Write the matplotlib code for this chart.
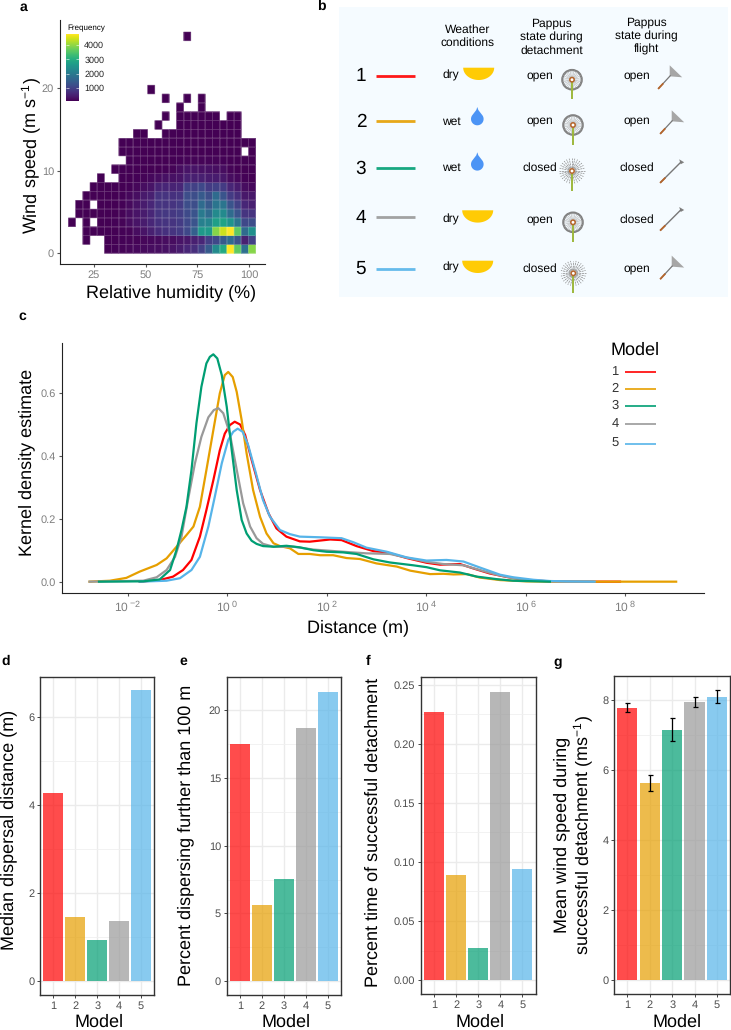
import numpy as np
import matplotlib
matplotlib.use("Agg")
import matplotlib.pyplot as plt
from matplotlib.patches import Rectangle, Polygon, Circle
from matplotlib.ticker import AutoMinorLocator

plt.rcParams['font.family'] = ['Liberation Sans', 'DejaVu Sans']
plt.rcParams['mathtext.fontset'] = 'custom'
plt.rcParams['mathtext.rm'] = 'Liberation Sans'
plt.rcParams['mathtext.default'] = 'regular'
plt.rcParams['text.hinting'] = 'none'
plt.rcParams['text.hinting_factor'] = 1

W, H = 731, 1030

models = [1, 2, 3, 4, 5]
colors = ['#FF0000', '#E69F00', '#009E73', '#999999', '#56B4E9']

# panel a, rows go from low wind speed to high, 26 humidity bins
_ = np.nan
freq = [
    [_]*5 + [100, 120, 150, 180, 200, 220, 250, 280, 300, 350, 450, 600, 700, 1000, 1400, 2300, 2900, 4750, 3600, 1800, 3900],
    [_, _, 100, _, _, 100, 100, 120, 150, 150, 180, 200, 220, 250, 250, 350, 400, 500, 600, 950, 1100, 1400, 1700, 1300, 500, 1000],
    [_, _, 100, 100, 100, 100, 100, 120, 150, 250, 350, 500, 650, 750, 800, 900, 1100, 1500, 2600, 2600, 3900, 4400, 4750, 3600, 1700, 2400],
    [100, _, 100, _, 100, 100, 120, 150, 250, 350, 450, 600, 750, 800, 800, 900, 1100, 1300, 2100, 2200, 2700, 2800, 2500, 1900, 1100, 1200],
    [_, 100, 100, 100, 100, 100, 100, 150, 250, 350, 450, 600, 800, 850, 850, 950, 1150, 1300, 2000, 1700, 2300, 2300, 1700, 1300, 800, 800],
    [_, 100, 100, _, 100, 100, 100, 130, 220, 320, 450, 600, 800, 800, 800, 900, 1200, 1200, 1700, 1400, 1900, 1900, 1300, 1000, 600, 500],
    [_, _, 100, 100, 100, 100, 100, 130, 200, 280, 420, 500, 780, 800, 750, 800, 1200, 1200, 1400, 1200, 1700, 1300, 900, 700, 400, 400],
    [_, _, _, 100, 100, 100, 100, 100, 130, 180, 280, 350, 550, 600, 550, 600, 1000, 1000, 1100, 900, 1000, 900, 600, 450, 250, 200],
    [_, _, _, _, 100, _, _, 100, 100, 120, 150, 200, 250, 300, 300, 350, 500, 500, 500, 450, 450, 400, 250, 200, 120, 100],
    [_]*6 + [100]*7 + [130, 150, 250, 350, 350, 300, 300, 280, 250, 150, 100, 100, 100],
    [_]*8 + [100]*7 + [130, 140, 150, 150, 150, 150, 130, 110, 100, 100, 100],
    [_]*7 + [100]*17 + [_, 100],
    [_]*7 + [100]*19,
    [_]*9 + [100]*2 + [_]*2 + [100]*11 + [_]*2,
    [_]*12 + [100] + [_]*2 + [100]*9 + [_]*2,
    [_]*13 + [100, _] + [100]*6 + [_] + [100]*2 + [_]*2,
    [_]*15 + [100, _, _, 100] + [_]*7,
    [_]*13 + [100, _, _, 100, _, 100] + [_]*7,
    [_]*11 + [100] + [_]*14,
    [_]*26,
    [_]*26,
    [_]*26,
    [_]*26,
    [_]*26,
    [_]*16 + [100] + [_]*9,
]
rh_start, rh_width = 12.6, 3.485
wind_width = 1.07

# panel c, log10 of distance and density
kde_x1 = [-1.76, -1.36, -1.09, -.89, -.72, -.55, -.42, -.28, -.15, -.05, .05, .15, .26, .36, .49, .66, .83, .99, 1.19, 1.46, 1.66, 2.07, 2.30, 2.60, 2.94, 3.21, 3.61, 4.01, 4.28, 4.68, 4.95, 5.28, 5.62, 6.02, 6.49, 7.16, 7.90]
kde_y1 = [0, .005, .016, .037, .069, .143, .227, .322, .417, .470, .497, .508, .499, .466, .387, .291, .217, .169, .143, .128, .127, .134, .132, .113, .097, .093, .075, .060, .054, .056, .042, .026, .015, .005, .001, 0, 0]
kde_x2 = [-2.77, -2.36, -2.03, -1.76, -1.42, -1.22, -1.02, -.82, -.68, -.55, -.42, -.28, -.15, -.05, .02, .11, .19, .29, .39, .52, .66, .79, .93, 1.06, 1.26, 1.43, 1.66, 1.87, 2.13, 2.40, 2.67, 3.0, 3.41, 3.68, 4.08, 4.35, 4.55, 4.82, 5.08, 5.49, 6.02, 6.49, 7.36, 9.03]
kde_y2 = [0, .003, .012, .032, .053, .074, .111, .148, .175, .238, .354, .481, .598, .656, .666, .650, .603, .513, .407, .291, .206, .153, .122, .113, .106, .088, .088, .084, .084, .075, .072, .058, .048, .035, .024, .025, .023, .024, .013, .005, .001, 0, 0, 0]
kde_x3 = [-2.58, -1.69, -1.36, -1.15, -1.02, -.92, -.82, -.72, -.62, -.52, -.42, -.35, -.28, -.20, -.11, -.01, .09, .19, .29, .39, .49, .59, .72, .93, 1.19, 1.46, 1.73, 2.0, 2.33, 2.60, 2.94, 3.27, 3.74, 4.01, 4.28, 4.68, 5.02, 5.42, 5.75, 6.49]
kde_y3 = [0, .001, .007, .037, .101, .164, .238, .354, .503, .619, .693, .714, .722, .709, .656, .555, .418, .291, .196, .153, .130, .120, .113, .111, .114, .109, .100, .095, .093, .088, .071, .061, .052, .046, .036, .029, .016, .008, .003, 0]
kde_x4 = [-2.77, -1.69, -1.42, -1.22, -1.05, -.92, -.79, -.65, -.52, -.38, -.27, -.18, -.08, .05, .19, .32, .46, .59, .72, .93, 1.33, 1.73, 2.33, 2.80, 3.27, 3.68, 4.01, 4.35, 4.75, 5.08, 5.42, 5.75, 6.16, 6.83, 7.36]
kde_y4 = [0, .003, .014, .037, .079, .143, .259, .376, .460, .522, .545, .551, .535, .472, .356, .249, .175, .138, .120, .111, .111, .102, .095, .090, .088, .074, .063, .056, .052, .037, .022, .011, .003, 0, 0]
kde_x5 = [-1.76, -1.22, -.95, -.72, -.55, -.38, -.25, -.11, .02, .12, .21, .31, .42, .56, .72, .86, 1.06, 1.26, 1.46, 1.86, 2.30, 2.54, 2.80, 3.21, 3.61, 4.01, 4.41, 4.75, 5.08, 5.49, 5.75, 6.16, 6.49, 6.83, 7.39]
kde_y5 = [0, .003, .011, .037, .079, .175, .270, .376, .450, .476, .486, .476, .434, .354, .259, .206, .164, .151, .143, .141, .138, .125, .108, .095, .077, .067, .069, .064, .045, .022, .014, .006, .002, .001, 0]

# panels d to g
median_dist = [4.27, 1.45, 0.92, 1.36, 6.6]
pct_100m = [17.5, 5.62, 7.54, 18.67, 21.38]
pct_time = [0.2269, 0.0888, 0.0273, 0.2438, 0.0944]
wind_mean = [7.76, 5.62, 7.15, 7.93, 8.07]
wind_low = [7.64, 5.40, 6.83, 7.80, 7.90]
wind_high = [7.90, 5.85, 7.49, 8.07, 8.27]

# table in panel b
weather = ['dry', 'wet', 'wet', 'dry', 'dry']
detach = ['open', 'open', 'closed', 'open', 'closed']
flight = ['open', 'open', 'closed', 'closed', 'open']

fig = plt.figure(figsize=(W / 100, H / 100), dpi=100)


def px_axes(l, t, r, b):
    return fig.add_axes([l / W, 1 - b / H, (r - l) / W, (b - t) / H])


# overlay in pixel coordinates for titles and the schematic
ov = fig.add_axes([0, 0, 1, 1], zorder=5)
ov.set_xlim(0, W)
ov.set_ylim(H, 0)
ov.axis('off')
ov.patch.set_alpha(0)


def label(x, y, s, size=12.7, rot=0, **kw):
    ov.text(x, y, s, fontsize=size, rotation=rot, ha='center', va='center', **kw)


for s, x, y in [('a', 23, 7), ('b', 321, 6), ('c', 22, 316), ('d', 6, 661),
                ('e', 183, 661), ('f', 368, 661), ('g', 558, 662)]:
    label(x, y, s, size=10, fontweight='bold')

# a, faces first with their own edge to close the seams, then the faint cell lines
ax = px_axes(59.5, 20, 265, 264)
xe = rh_start + rh_width * np.arange(27)
ye = wind_width * np.arange(26)
cells = np.ma.masked_invalid(np.array(freq))
pc = ax.pcolor(xe, ye, cells, cmap='viridis', vmin=100, vmax=4750, edgecolors='face', linewidth=0.3)
lines = ax.pcolor(xe, ye, cells, cmap='viridis', vmin=100, vmax=4750)
lines.set_array(None)
lines.set_facecolor('none')
lines.set_edgecolor((1, 1, 1, 0.055))
lines.set_linewidth(0.5)
ax.set_xlim(8.3, 107.7)
ax.set_ylim(-1.29, 28.2)
ax.set_xticks([25, 50, 75, 100])
ax.set_yticks([0, 10, 20])
ax.tick_params(labelsize=8.2, labelcolor='#7f7f7f', color='#555555', length=2.5, width=0.8, pad=1.5)
ax.spines[['top', 'right']].set_visible(False)
ax.spines[['left', 'bottom']].set_color('#222222')
label(31.5, 156, 'Wind speed (m s$^{-1}$)', rot=90)
label(170.7, 292.5, 'Relative humidity (%)')

cax = px_axes(66.3, 34, 79.3, 101)
cb = fig.colorbar(pc, cax=cax)
cb.set_ticks([1000, 2000, 3000, 4000])
cb.outline.set_visible(False)
cax.tick_params(labelsize=6.7, length=2.5, width=0.4, color='white', direction='in', pad=3.5, labelcolor='#222222')
cax.tick_params(left=True)
label(86, 28, 'Frequency', size=6)

# b
ov.add_patch(Rectangle((339, 7), 389, 290, fc='#F5FBFF', ec='none', zorder=0))
label(467.3, 36.5, 'Weather\nconditions', size=8.5, linespacing=1.25)
label(551.7, 37, 'Pappus\nstate during\ndetachment', size=8.5, linespacing=1.25)
label(646, 36, 'Pappus\nstate during\nflight', size=8.5, linespacing=1.25)

row_digit_y = [76.3, 122, 168.7, 218, 269]
row_line_y = [76, 121.3, 168.3, 217.3, 269.3]
weather_y = [75, 121.3, 168, 219, 267.7]
weather_icon_x = [478.7, 477.3, 477.3, 477.7, 477.7]
weather_icon_y = [67.7, 107, 152.3, 210.3, 260.7]
detach_text_y = [75.3, 120.7, 168, 219.3, 268.7]
flight_text_y = [75.3, 120.7, 167.7, 220, 268]
head_x = [572, 573, 572, 573, 573.3]
head_y = [79.7, 125, 171, 222.3, 273.3]
seed_x = [658.7, 660.7, 660.7, 660.7, 660.7]
seed_y = [88.3, 133.3, 182.3, 230, 278.6]


def half_disc(cx, top):
    t = np.linspace(0, np.pi, 40)
    pts = np.column_stack([cx + 15.5 * np.cos(t), top + 12.3 * np.sin(t)])
    ov.add_patch(Polygon(pts, fc='#FFCB05', ec='none'))


def drop(cx, top):
    t = np.linspace(-0.6, np.pi + 0.6, 40)
    cy = top + 12
    pts = np.column_stack([cx + 6.3 * np.cos(t), cy + 6.3 * np.sin(t)])
    pts = np.vstack([pts, [[cx - 1, top + 3], [cx, top], [cx + 1, top + 3]]])
    ov.add_patch(Polygon(pts, fc='#4C94F5', ec='none'))


def pappus_head(cx, cy, state):
    ang = np.linspace(0, 2 * np.pi, 28, endpoint=False)
    if state == 'open':
        for a in ang:
            ov.plot([cx, cx + 9.5 * np.cos(a)], [cy, cy + 9.5 * np.sin(a)], color='#aaaaaa', lw=0.35)
        ov.add_patch(Circle((cx, cy), 9.7, fc='none', ec='#808080', lw=1.6))
    else:
        for a in ang:
            ov.plot([cx + 3 * np.cos(a), cx + 12.7 * np.cos(a)], [cy + 3 * np.sin(a), cy + 12.7 * np.sin(a)],
                    color='#888888', lw=0.5, ls=(0, (3, 1)))
    ov.plot([cx, cx], [cy, cy + 19.5], color='#9DB83C', lw=1.4, solid_capstyle='butt')
    ov.add_patch(Circle((cx, cy), 2.2, fc='white', ec='#B5652B', lw=1.1, zorder=4))


def flight_icon(x0, y0, state):
    if state == 'open':
        ov.plot([x0, x0 + 11.5], [y0, y0 - 12.5], color='#777777', lw=0.9)
        ov.add_patch(Polygon([[x0 + 11, y0 - 23], [x0 + 23.5, y0 - 11], [x0 + 11, y0 - 12]], fc='#A6A6A6', ec='none'))
        ov.plot([x0, x0 + 4], [y0, y0 - 4.3], color='#B5652B', lw=1.3)
    else:
        ov.plot([x0, x0 + 20], [y0, y0 - 20], color='#777777', lw=1.0)
        ov.add_patch(Polygon([[x0 + 18.5, y0 - 23], [x0 + 23.5, y0 - 20], [x0 + 20, y0 - 18]], fc='#808080', ec='none'))
        ov.plot([x0, x0 + 4], [y0, y0 - 4], color='#B5652B', lw=1.3)


for i in range(5):
    label(361, row_digit_y[i], str(models[i]), size=13.5)
    ov.plot([375.7, 414.7], [row_line_y[i]] * 2, color=colors[i], lw=2, solid_capstyle='butt', alpha=0.9)
    label(451, weather_y[i], weather[i], size=8.5)
    if weather[i] == 'dry':
        half_disc(weather_icon_x[i], weather_icon_y[i])
    else:
        drop(weather_icon_x[i], weather_icon_y[i])
    label(539.7, detach_text_y[i], detach[i], size=8.5)
    pappus_head(head_x[i], head_y[i], detach[i])
    label(637.3, flight_text_y[i], flight[i], size=8.5)
    flight_icon(seed_x[i], seed_y[i], flight[i])

# c
ax = px_axes(61.7, 343, 704, 593)
kde = {1: (kde_x1, kde_y1), 2: (kde_x2, kde_y2), 3: (kde_x3, kde_y3), 4: (kde_x4, kde_y4), 5: (kde_x5, kde_y5)}
for m in [1, 2, 4, 5, 3]:
    xs, ys = kde[m]
    ax.plot(10 ** np.array(xs), ys, color=colors[m - 1], lw=1.6, solid_joinstyle='round')
ax.set_xscale('log')
ax.set_xlim(10 ** -3.33, 10 ** 9.59)
ax.set_ylim(-0.036, 0.758)
ax.set_xticks([10.0 ** e for e in [-2, 0, 2, 4, 6, 8]])
ax.set_xticklabels([r'$10\,^{%d}$' % e for e in [-2, 0, 2, 4, 6, 8]])
ax.minorticks_off()
ax.set_yticks([0, .2, .4, .6])
ax.set_yticklabels(['0.0', '0.2', '0.4', '0.6'])
ax.tick_params(labelsize=8.8, labelcolor='#7f7f7f', color='#555555', length=2.5, width=0.8, pad=1.5)
ax.tick_params(axis='y', labelsize=8.2)
ax.spines[['top', 'right']].set_visible(False)
ax.spines[['left', 'bottom']].set_color('#222222')
label(27, 462, 'Kernel density estimate', rot=90)
label(358.3, 627.7, 'Distance (m)')

label(635.5, 350, 'Model')
legend_y = [371.7, 388.5, 405.5, 424, 443.7]
for i in range(5):
    label(615, legend_y[i], str(models[i]), size=9.5, color='#333333')
    ov.plot([625, 656], [legend_y[i]] * 2, color=colors[i], lw=1.2, solid_capstyle='butt')


# d to g
def bars(rect, values, ylim, yticks, ticklabels=None):
    a = px_axes(*rect)
    a.bar(models, values, width=0.9, color=colors, alpha=0.7, edgecolor='none', zorder=2)
    a.set_xlim(0.4, 5.6)
    a.set_ylim(*ylim)
    a.set_xticks(models)
    a.set_yticks(yticks)
    if ticklabels:
        a.set_yticklabels(ticklabels)
    a.yaxis.set_minor_locator(AutoMinorLocator(2))
    a.grid(True, which='major', color='#EBEBEB', lw=1, zorder=0)
    a.grid(True, which='minor', axis='y', color='#F0F0F0', lw=0.6, zorder=0)
    a.set_axisbelow(True)
    a.tick_params(which='major', labelsize=8, labelcolor='#4d4d4d', color='#444444', length=2.5, width=0.7, pad=1.5)
    a.tick_params(which='minor', length=0)
    for sp in a.spines.values():
        sp.set_color('#333333')
        sp.set_linewidth(1.0)
    return a


bars((40, 677.3, 154.3, 995), median_dist, (-0.325, 6.895), [0, 2, 4, 6])
bars((226.7, 677.3, 341.3, 995), pct_100m, (-1.03, 22.44), [0, 5, 10, 15, 20])
bars((420.7, 677.3, 535.7, 994), pct_time, (-0.0118, 0.2563), [0, .05, .1, .15, .2, .25],
     ['0.00', '0.05', '0.10', '0.15', '0.20', '0.25'])
ag = bars((614, 675.7, 730.3, 994), wind_mean, (-0.4, 8.69), [0, 2, 4, 6, 8])
ag.errorbar(models, wind_mean,
            yerr=[np.array(wind_mean) - np.array(wind_low), np.array(wind_high) - np.array(wind_mean)],
            fmt='none', ecolor='black', elinewidth=0.9, capsize=1.8, capthick=0.9, zorder=3)

label(8.5, 830, 'Median dispersal distance (m)', rot=90)
label(185.5, 835.7, 'Percent dispersing further than 100 m', rot=90)
label(373, 832.7, 'Percent time of successful detachment', rot=90)
label(561.7, 835, 'Mean wind speed during', rot=90)
label(583, 834.7, 'successful detachment (ms$^{-1}$)', rot=90)
for x in [99.3, 286, 480.3, 676.7]:
    label(x, 1022.5, 'Model')

fig.savefig('out.png', dpi=100)
